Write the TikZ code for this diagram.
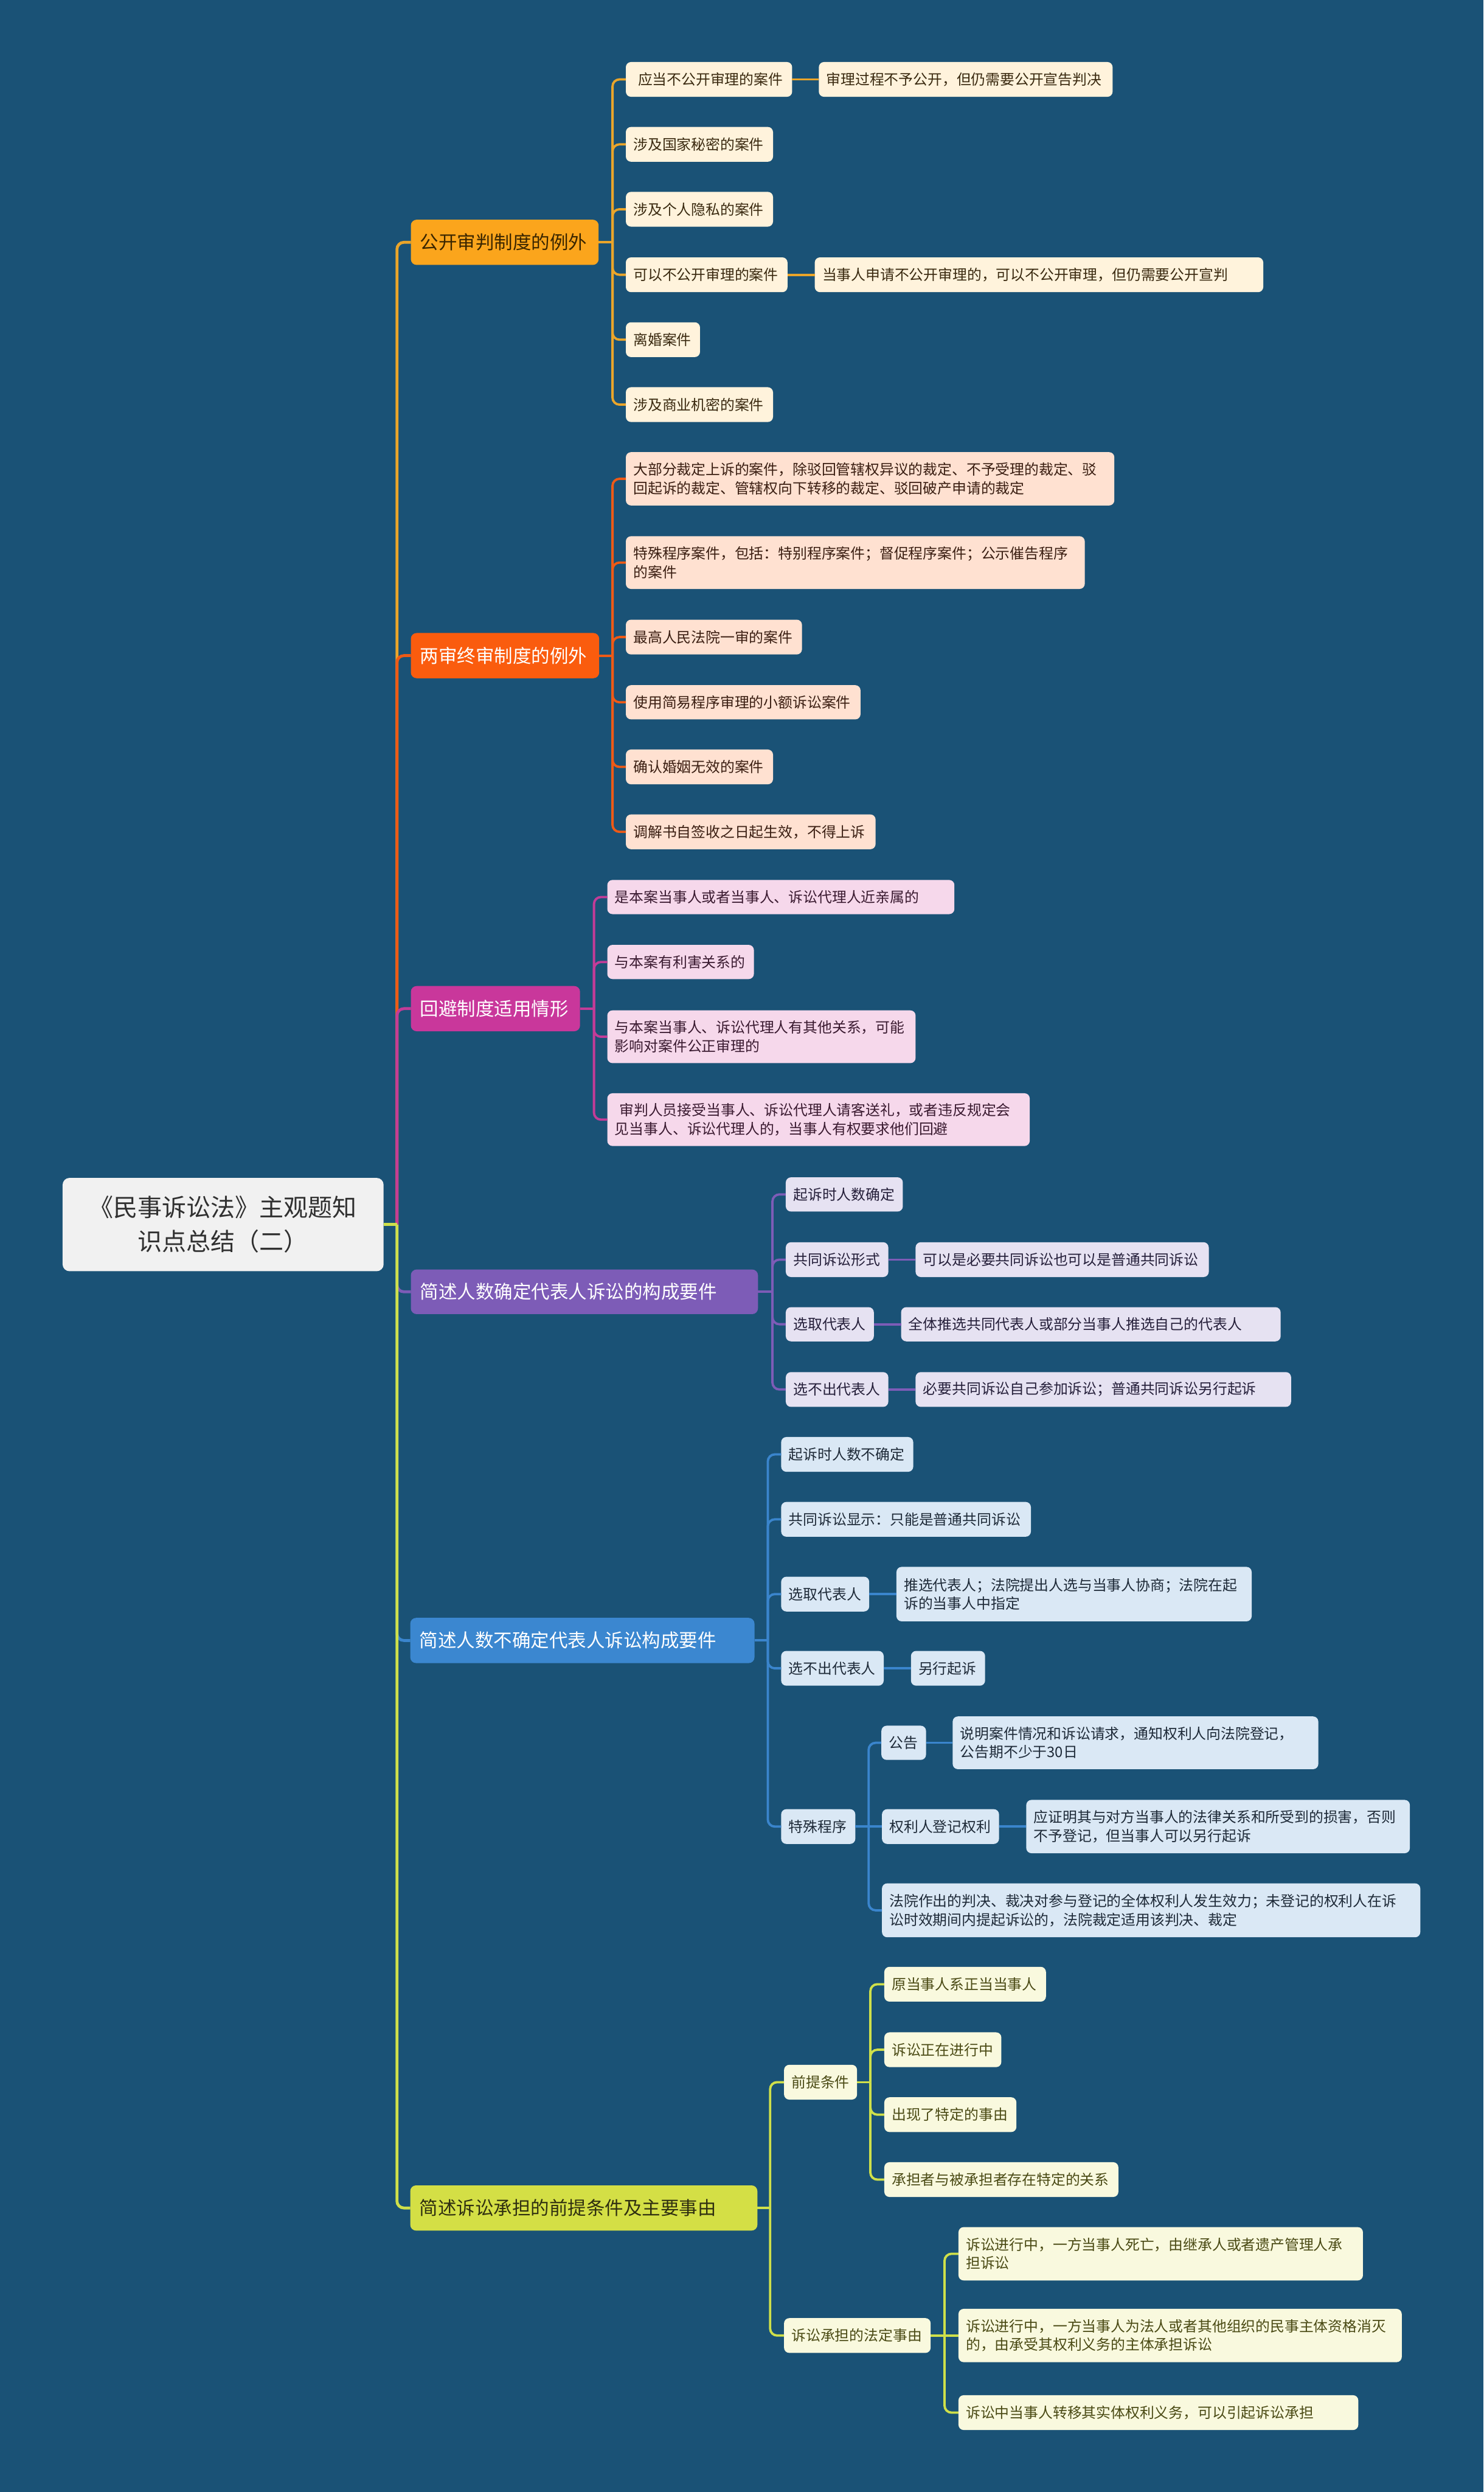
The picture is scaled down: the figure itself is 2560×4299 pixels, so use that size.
\documentclass[tikz,border=0pt]{standalone}
\usepackage{fontspec}
\setmainfont{Noto Sans CJK SC}
\setlength\parindent{0pt}
\definecolor{bg}{HTML}{1A5276}
\definecolor{rootfill}{HTML}{F1F1F1}
\definecolor{roottext}{HTML}{303030}
% topic colours
\definecolor{cA}{HTML}{FBA51C}
\definecolor{cB}{HTML}{FA5C0E}
\definecolor{cC}{HTML}{C9379B}
\definecolor{cD}{HTML}{7D5CB7}
\definecolor{cE}{HTML}{3B87D0}
\definecolor{cF}{HTML}{D4DF45}
% line colours
\definecolor{kA}{HTML}{EAA52A}
\definecolor{kB}{HTML}{EE5A16}
\definecolor{kC}{HTML}{C33C98}
\definecolor{kD}{HTML}{7D5CB7}
\definecolor{kE}{HTML}{3A85CD}
\definecolor{kF}{HTML}{CFE04A}
% leaf fills
\definecolor{fA}{HTML}{FFF3DC}
\definecolor{fB}{HTML}{FFE1D1}
\definecolor{fC}{HTML}{F6D8EB}
\definecolor{fD}{HTML}{E6E2F2}
\definecolor{fE}{HTML}{DAE8F5}
\definecolor{fF}{HTML}{F9F9DE}
% leaf texts
\definecolor{xA}{HTML}{3A2A10}
\definecolor{xB}{HTML}{3A1E12}
\definecolor{xC}{HTML}{3A1A30}
\definecolor{xD}{HTML}{251F3A}
\definecolor{xE}{HTML}{1E2A38}
\definecolor{xF}{HTML}{4A4A14}
\definecolor{tAt}{HTML}{3A2600}
\definecolor{tFt}{HTML}{2F2F10}

\tikzset{
  rootbox/.style={fill=rootfill, text=roottext, rounded corners=6pt, align=center,
    font=\fontsize{21}{29.5}\selectfont, inner sep=0pt, outer sep=0pt},
  topicbox/.style={rounded corners=5pt, font=\fontsize{16}{20}\selectfont, outer sep=0pt},
  leafbox/.style={rounded corners=4.5pt, font=\fontsize{12.5}{16}\selectfont, outer sep=0pt},
  lA/.style={leafbox, fill=fA, text=xA},
  lB/.style={leafbox, fill=fB, text=xB},
  lC/.style={leafbox, fill=fC, text=xC},
  lD/.style={leafbox, fill=fD, text=xD},
  lE/.style={leafbox, fill=fE, text=xE},
  lF/.style={leafbox, fill=fF, text=xF},
  mainline/.style={line width=2.5pt, rounded corners=6pt},
  subline/.style={line width=2pt, rounded corners=6pt},
}

% \mmbox{name}{style}{x1}{y1}{x2}{y2}{pad}{text}  (pixel coordinates)
\newcommand\mmbox[8]{%
  \pgfmathsetmacro\mmw{(#5-#3-2*#7)*0.5}%
  \pgfmathsetmacro\mmh{(#6-#4)*0.5}%
  \pgfmathsetmacro\mmp{#7*0.5}%
  \node[#2, anchor=north west, inner xsep=\mmp pt, inner ysep=0pt,
        text width=\mmw pt, minimum height=\mmh pt, align=left] (#1) at (#3,#4) {#8};%
}
% \mmfan{style}{parent}{trunk coordinate}{children with a bend}
\newcommand\mmfan[4]{%
  \draw[#1] (#2.east) -- (#2.east -| #3);
  \foreach \cc in {#4} {\draw[#1] (#2.east -| #3) |- (\cc.west);}
}

\begin{document}
\begin{tikzpicture}[x=0.5pt, y=-0.5pt]
\fill[bg] (0,0) rectangle (2560,4299);
\useasboundingbox (0,0) rectangle (2560,4299);

% root
\node[rootbox, anchor=north west, minimum width=277pt, minimum height=80.5pt] (root) at (108,2032)
  {《民事诉讼法》主观题知\\识点总结（二）};

% ---- topic 1
\mmbox{t1}{topicbox, fill=cA, text=tAt}{709}{379}{1033}{457}{16}{公开审判制度的例外}
\mmbox{a1}{lA}{1080}{107}{1367}{167}{13}{\hspace*{4pt}应当不公开审理的案件}
\mmbox{a1x}{lA}{1413}{107}{1920}{167}{13}{审理过程不予公开，但仍需要公开宣告判决}
\mmbox{a2}{lA}{1080}{219}{1334}{279}{13}{涉及国家秘密的案件}
\mmbox{a3}{lA}{1080}{331}{1334}{391}{13}{涉及个人隐私的案件}
\mmbox{a4}{lA}{1080}{444}{1359}{504}{13}{可以不公开审理的案件}
\mmbox{a4x}{lA}{1406}{444}{2180}{504}{13}{当事人申请不公开审理的，可以不公开审理，但仍需要公开宣判}
\mmbox{a5}{lA}{1080}{556}{1208}{616}{13}{离婚案件}
\mmbox{a6}{lA}{1080}{668}{1334}{728}{13}{涉及商业机密的案件}

% ---- topic 2
\mmbox{t2}{topicbox, fill=cB, text=white}{709}{1092}{1034}{1170}{16}{两审终审制度的例外}
\mmbox{b1}{lB}{1080}{780}{1923}{872}{13}{大部分裁定上诉的案件，除驳回管辖权异议的裁定、不予受理的裁定、驳\\回起诉的裁定、管辖权向下转移的裁定、驳回破产申请的裁定}
\mmbox{b2}{lB}{1080}{925}{1872}{1016}{13}{特殊程序案件，包括：特别程序案件；督促程序案件；公示催告程序\\的案件}
\mmbox{b3}{lB}{1080}{1069}{1384}{1129}{13}{最高人民法院一审的案件}
\mmbox{b4}{lB}{1080}{1182}{1485}{1241}{13}{使用简易程序审理的小额诉讼案件}
\mmbox{b5}{lB}{1080}{1293}{1334}{1353}{13}{确认婚姻无效的案件}
\mmbox{b6}{lB}{1080}{1405}{1511}{1465}{13}{调解书自签收之日起生效，不得上诉}

% ---- topic 3
\mmbox{t3}{topicbox, fill=cC, text=white}{709}{1701}{1001}{1779}{16}{回避制度适用情形}
\mmbox{e1}{lC}{1048}{1518}{1647}{1577}{13}{是本案当事人或者当事人、诉讼代理人近亲属的}
\mmbox{e2}{lC}{1048}{1630}{1301}{1689}{13}{与本案有利害关系的}
\mmbox{e3}{lC}{1048}{1743}{1580}{1834}{13}{与本案当事人、诉讼代理人有其他关系，可能\\影响对案件公正审理的}
\mmbox{e4}{lC}{1048}{1886}{1777}{1977}{13}{\hspace*{4pt}审判人员接受当事人、诉讼代理人请客送礼，或者违反规定会\\见当事人、诉讼代理人的，当事人有权要求他们回避}

% ---- topic 4
\mmbox{t4}{topicbox, fill=cD, text=white}{709}{2190}{1308}{2267}{16}{简述人数确定代表人诉讼的构成要件}
\mmbox{f1}{lD}{1356}{2031}{1558}{2090}{13}{起诉时人数确定}
\mmbox{f2}{lD}{1356}{2143}{1533}{2203}{13}{共同诉讼形式}
\mmbox{f2x}{lD}{1580}{2143}{2086}{2203}{13}{可以是必要共同诉讼也可以是普通共同诉讼}
\mmbox{f3}{lD}{1356}{2255}{1508}{2314}{13}{选取代表人}
\mmbox{f3x}{lD}{1555}{2255}{2210}{2314}{13}{全体推选共同代表人或部分当事人推选自己的代表人}
\mmbox{f4}{lD}{1356}{2367}{1533}{2427}{13}{选不出代表人}
\mmbox{f4x}{lD}{1580}{2367}{2228}{2427}{13}{必要共同诉讼自己参加诉讼；普通共同诉讼另行起诉}

% ---- topic 5
\mmbox{t5}{topicbox, fill=cE, text=white}{708}{2791}{1302}{2869}{16}{简述人数不确定代表人诉讼构成要件}
\mmbox{g1}{lE}{1348}{2479}{1576}{2539}{13}{起诉时人数不确定}
\mmbox{g2}{lE}{1348}{2591}{1779}{2651}{13}{共同诉讼显示：只能是普通共同诉讼}
\mmbox{g3}{lE}{1348}{2720}{1500}{2780}{13}{选取代表人}
\mmbox{g3x}{lE}{1547}{2703}{2160}{2797}{13}{推选代表人；法院提出人选与当事人协商；法院在起\\诉的当事人中指定}
\mmbox{g4}{lE}{1348}{2848}{1525}{2908}{13}{选不出代表人}
\mmbox{g4x}{lE}{1572}{2848}{1700}{2908}{13}{另行起诉}
\mmbox{g5}{lE}{1348}{3121}{1476}{3181}{13}{特殊程序}
\mmbox{h1}{lE}{1521}{2977}{1598}{3036}{13}{公告}
\mmbox{h1x}{lE}{1644}{2961}{2275}{3052}{13}{说明案件情况和诉讼请求，通知权利人向法院登记，\\公告期不少于30日}
\mmbox{h2}{lE}{1522}{3121}{1724}{3181}{13}{权利人登记权利}
\mmbox{h2x}{lE}{1771}{3105}{2433}{3197}{13}{应证明其与对方当事人的法律关系和所受到的损害，否则\\不予登记，但当事人可以另行起诉}
\mmbox{h3}{lE}{1522}{3249}{2451}{3342}{13}{法院作出的判决、裁决对参与登记的全体权利人发生效力；未登记的权利人在诉\\讼时效期间内提起诉讼的，法院裁定适用该判决、裁定}

% ---- topic 6
\mmbox{t6}{topicbox, fill=cF, text=tFt}{708}{3770}{1307}{3848}{16}{简述诉讼承担的前提条件及主要事由}
\mmbox{i1}{lF}{1353}{3562}{1479}{3622}{13}{前提条件}
\mmbox{j1}{lF}{1526}{3393}{1805}{3453}{13}{原当事人系正当当事人}
\mmbox{j2}{lF}{1526}{3506}{1728}{3566}{13}{诉讼正在进行中}
\mmbox{j3}{lF}{1526}{3618}{1754}{3678}{13}{出现了特定的事由}
\mmbox{j4}{lF}{1526}{3730}{1930}{3790}{13}{承担者与被承担者存在特定的关系}
\mmbox{i2}{lF}{1353}{3999}{1606}{4059}{13}{诉讼承担的法定事由}
\mmbox{k1}{lF}{1654}{3842}{2352}{3934}{13}{诉讼进行中，一方当事人死亡，由继承人或者遗产管理人承\\担诉讼}
\mmbox{k2}{lF}{1654}{3983}{2419}{4075}{13}{诉讼进行中，一方当事人为法人或者其他组织的民事主体资格消灭\\的，由承受其权利义务的主体承担诉讼}
\mmbox{k3}{lF}{1654}{4132}{2344}{4192}{13}{诉讼中当事人转移其实体权利义务，可以引起诉讼承担}

% ---- trunk coordinates
\coordinate (rx) at (685,0);
\coordinate (sA) at (1057,0);
\coordinate (sB) at (1057,0);
\coordinate (sC) at (1025,0);
\coordinate (sD) at (1333,0);
\coordinate (sE) at (1325,0);
\coordinate (sG) at (1499,0);
\coordinate (sF) at (1329,0);
\coordinate (sI) at (1502,0);
\coordinate (sK) at (1630,0);

% ---- root connectors (drawn in order, later on top)
\coordinate (J) at (root.east -| rx);
\draw[mainline, draw=kA] (J) |- (t1.west);
\draw[mainline, draw=kB] (J) |- (t2.west);
\draw[mainline, draw=kC] (J) |- (t3.west);
\draw[mainline, draw=kD] (J) |- (t4.west);
\draw[mainline, draw=kE] (J) |- (t5.west);
\draw[mainline, draw=kF] (J) |- (t6.west);
\draw[mainline, draw=kF] (root.east) -- (J);

% ---- sub connectors
\mmfan{subline, draw=kA}{t1}{sA}{a1,a2,a3,a4,a5,a6}
\draw[subline, draw=kA] (a1.east) -- (a1x.west);
\draw[subline, draw=kA] (a4.east) -- (a4x.west);

\mmfan{subline, draw=kB}{t2}{sB}{b1,b2,b3,b4,b5,b6}

\mmfan{subline, draw=kC}{t3}{sC}{e1,e2,e3,e4}

\mmfan{subline, draw=kD}{t4}{sD}{f1,f2,f3,f4}
\draw[subline, draw=kD] (f2.east) -- (f2x.west);
\draw[subline, draw=kD] (f3.east) -- (f3x.west);
\draw[subline, draw=kD] (f4.east) -- (f4x.west);

\mmfan{subline, draw=kE}{t5}{sE}{g1,g2,g3,g4,g5}
\draw[subline, draw=kE] (g3.east) -- (g3x.west);
\draw[subline, draw=kE] (g4.east) -- (g4x.west);
\mmfan{subline, draw=kE}{g5}{sG}{h1,h3}
\draw[subline, draw=kE] (g5.east -| sG) -- (h2.west);
\draw[subline, draw=kE] (h1.east) -- (h1x.west);
\draw[subline, draw=kE] (h2.east) -- (h2x.west);

\mmfan{subline, draw=kF}{t6}{sF}{i1,i2}
\mmfan{subline, draw=kF}{i1}{sI}{j1,j2,j3,j4}
\mmfan{subline, draw=kF}{i2}{sK}{k1,k3}
\draw[subline, draw=kF] (i2.east -| sK) -- (k2.west);
\end{tikzpicture}
\end{document}
